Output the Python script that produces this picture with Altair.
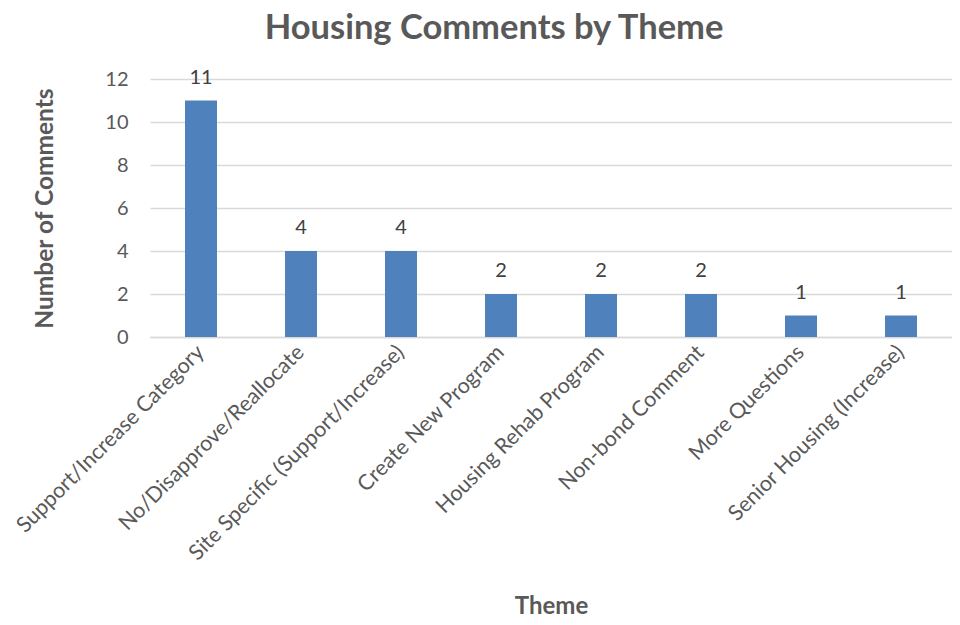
import altair as alt
import pandas as pd

themes = [
    "Support/Increase Category",
    "No/Disapprove/Reallocate",
    "Site Specific (Support/Increase)",
    "Create New Program",
    "Housing Rehab Program",
    "Non-bond Comment",
    "More Questions",
    "Senior Housing (Increase)",
]
counts = [11, 4, 4, 2, 2, 2, 1, 1]

df = pd.DataFrame({"Theme": themes, "Count": counts})

FONT = "Lato"
GREY = "#595959"

x = alt.X(
    "Theme:N",
    sort=themes,
    scale=alt.Scale(paddingInner=0.68, paddingOuter=0.35),
    axis=alt.Axis(
        title="Theme",
        labelAngle=-45,
        labelAlign="right",
        labelBaseline="middle",
        labelPadding=12,
        labelFont=FONT,
        labelFontSize=21.5,
        labelColor=GREY,
        labelLimit=400,
        ticks=False,
        domainColor="#D9D9D9",
        domainWidth=1.5,
        titleFont=FONT,
        titleFontSize=24,
        titleFontWeight="bold",
        titleColor=GREY,
        titleY=269,
        titleBaseline="middle",
    ),
)
y = alt.Y(
    "Count:Q",
    scale=alt.Scale(domain=[0, 12]),
    axis=alt.Axis(
        title="Number of Comments",
        values=[0, 2, 4, 6, 8, 10, 12],
        labelFont=FONT,
        labelFontSize=20,
        labelColor=GREY,
        labelPadding=22,
        ticks=False,
        domain=False,
        gridColor="#D9D9D9",
        gridWidth=1.5,
        titleFont=FONT,
        titleFontSize=24.5,
        titleFontWeight="bold",
        titleColor=GREY,
        titleX=-105,
        titleY=129,
        titleAngle=-90,
        titleBaseline="middle",
        titleAlign="center",
    ),
)

bars = alt.Chart(df).mark_bar(color="#4F81BD").encode(x=x, y=y)
labels = alt.Chart(df).mark_text(
    font=FONT, fontSize=20, color="#404040", baseline="bottom", dy=-13
).encode(x=alt.X("Theme:N", sort=themes), y="Count:Q", text="Count:Q")

chart = (
    alt.layer(bars, labels)
    .properties(
        width=802,
        height=258,
        padding={"left": 142, "top": 71, "right": 0, "bottom": 280},
        autosize=alt.AutoSizeParams(type="none"),
        title=alt.TitleParams(
            "Housing Comments by Theme",
            font=FONT,
            fontSize=34.5,
            fontWeight="bold",
            color=GREY,
            anchor="middle",
            dx=-57,
            offset=21,
        ),
    )
    .configure_view(stroke=None)
)

chart.save("out.html", embed_options={"renderer": "svg", "actions": False})
